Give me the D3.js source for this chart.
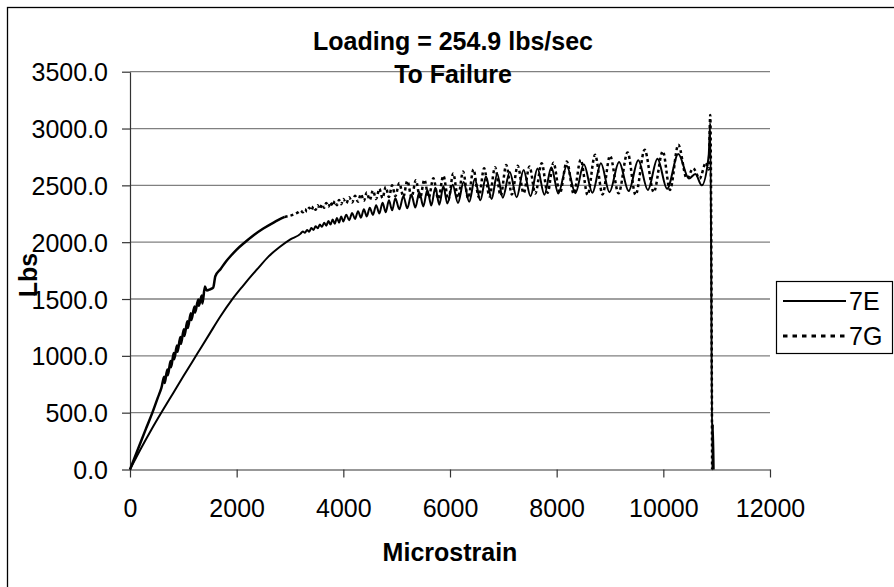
<!DOCTYPE html>
<html><head><meta charset="utf-8">
<script src="https://cdn.jsdelivr.net/npm/d3@7/dist/d3.min.js"></script>
<style>body{margin:0;background:#fff}svg{display:block}text{font-family:"Liberation Sans",Arial,sans-serif}</style>
</head><body>
<svg id="chart" width="894" height="587"></svg>
<script>
const titleLines = ["Loading = 254.9 lbs/sec", "To Failure"];
const xLabel = "Microstrain";
const yLabel = "Lbs";
const xTicks = [0, 2000, 4000, 6000, 8000, 10000, 12000];
const yTicks = [0, 500, 1000, 1500, 2000, 2500, 3000, 3500];
const seriesNames = ["7E", "7G"];

// [microstrain, lbs]
const series7E = [
[0,0],[200,180],[400,350],[600,510],[800,665],[1000,820],[1263,1020],[1500,1200],[1700,1350],[1906,1490],
[2100,1605],[2188,1655],[2400,1770],[2600,1875],[2800,1955],[3000,2022],[3200,2075],
[3240,2095],[3280,2082],[3320,2108],[3360,2092],[3400,2124],[3440,2108],[3480,2140],[3520,2122],[3560,2156],[3600,2135],
[3640,2172],[3680,2145],[3720,2186],[3760,2155],[3800,2200],[3840,2162],[3880,2213],[3920,2172],[3960,2226],[4000,2182],
[4055,2242],[4110,2193],[4165,2257],[4220,2204],[4275,2273],[4330,2216],[4385,2289],[4440,2227],[4495,2304],
[4555,2240],[4615,2326],[4675,2252],[4735,2347],[4795,2264],[4855,2368],[4915,2280],[4975,2386],
[5050,2290],[5125,2405],[5200,2298],[5275,2420],[5350,2305],[5425,2440],[5500,2315],[5575,2460],[5650,2322],[5725,2478],[5800,2330],[5875,2492],[5950,2340],
[6050,2505],[6150,2345],[6255,2530],[6360,2355],[6465,2555],[6570,2368],[6675,2578],[6780,2380],[6885,2600],[6990,2392],
[7120,2618],[7250,2395],[7380,2635],[7510,2405],[7640,2648],[7770,2418],[7900,2660],[8030,2428],
[8190,2672],[8350,2430],[8510,2685],[8670,2435],[8830,2695],[8990,2440],
[9170,2705],[9350,2450],[9530,2720],[9710,2460],[9890,2735],[10070,2470],
[10280,2775],[10480,2560],[10600,2600],[10720,2500],[10850,2760],[10880,3050],[10920,0],[10930,400],[10945,0]
];

const series7G = [
[0,0],[150,180],[300,360],[420,500],[520,630],[590,720],
[640,815],[650,760],[700,880],[710,830],[760,955],[770,900],[820,1025],[830,970],[880,1090],[890,1035],
[945,1165],[955,1105],[1010,1235],[1020,1175],[1075,1305],[1085,1245],[1140,1375],[1150,1315],
[1210,1435],[1220,1380],[1280,1495],[1290,1440],[1345,1530],[1358,1460],
[1405,1610],[1440,1575],[1500,1585],[1560,1600],[1600,1700],[1700,1765],[1800,1830],[1900,1885],[2000,1935],
[2156,2000],[2300,2055],[2500,2120],[2700,2175],[2900,2222],[3156,2264],
[3200,2278],[3240,2263],[3280,2290],[3320,2270],[3360,2302],[3400,2279],[3440,2314],[3480,2285],[3520,2325],[3560,2292],
[3600,2334],[3640,2302],[3680,2344],[3720,2310],[3760,2352],[3800,2318],[3840,2362],[3880,2326],[3920,2372],[3960,2334],[4000,2380],
[4055,2342],[4110,2395],[4165,2350],[4220,2408],[4275,2356],[4330,2424],[4385,2364],[4440,2437],[4495,2370],
[4555,2455],[4615,2380],[4675,2470],[4735,2388],[4795,2485],[4855,2398],[4915,2500],[4975,2405],
[5050,2520],[5125,2400],[5200,2540],[5280,2395],[5360,2545],[5438,2387],[5520,2550],[5600,2392],[5688,2563],[5780,2380],
[5875,2585],[5970,2372],[6060,2605],[6150,2392],[6245,2622],[6340,2387],[6440,2640],[6540,2395],[6640,2651],[6740,2402],
[6845,2660],[6950,2410],[7055,2680],[7160,2420],[7270,2672],[7380,2431],[7490,2666],[7600,2428],[7719,2695],[7830,2435],
[7940,2700],[8060,2431],[8190,2710],[8320,2425],[8450,2725],[8580,2416],[8720,2769],[8860,2420],[9000,2760],[9160,2430],
[9330,2790],[9480,2416],[9650,2813],[9820,2440],[9990,2800],[10125,2460],[10281,2857],[10440,2560],[10560,2650],[10680,2560],
[10800,2700],[10850,2640],[10880,3120],[10915,0]
];

const svg = d3.select("#chart");
const x = d3.scaleLinear().domain([0, 12000]).range([130, 770]);
const y = d3.scaleLinear().domain([0, 3500]).range([469.5, 71.7]);

// outer frame
svg.append("rect").attr("x", 7.5).attr("y", 7.5).attr("width", 1000).attr("height", 1000)
  .attr("fill", "none").attr("stroke", "#000").attr("stroke-width", 1.3);

// gridlines
svg.append("g").selectAll("line").data(yTicks.filter(v => v > 0)).join("line")
  .attr("x1", x(0)).attr("x2", x(12000))
  .attr("y1", d => y(d)).attr("y2", d => y(d))
  .attr("stroke", "#808080").attr("stroke-width", 1.3);

// axes
const fs = 25;
const gy = svg.append("g").attr("transform", `translate(${x(0)},0)`)
  .call(d3.axisLeft(y).tickValues(yTicks).tickSize(8).tickSizeOuter(0).tickPadding(14).tickFormat(d3.format(".1f")));
const gx = svg.append("g").attr("transform", `translate(0,${y(0)})`)
  .call(d3.axisBottom(x).tickValues(xTicks).tickSize(8).tickSizeOuter(0).tickFormat(d3.format("d")));
[gx, gy].forEach(g => {
  g.select(".domain").attr("stroke", "#333").attr("stroke-width", 1.2);
  g.selectAll(".tick line").attr("stroke", "#333").attr("stroke-width", 1.2);
  g.selectAll("text").attr("font-size", fs).attr("fill", "#000").attr("font-family", "Liberation Sans, Arial, sans-serif");
});
gx.selectAll("text").attr("y", 47).attr("dy", 0);
gy.selectAll("text").attr("dy", "0.36em");

// lines
const line = d3.line().x(d => x(d[0])).y(d => y(d[1])).curve(d3.curveMonotoneX);
svg.append("path").datum(series7E).attr("d", line)
  .attr("fill", "none").attr("stroke", "#000").attr("stroke-width", 2);
svg.append("path").datum(series7G.filter(d => d[0] <= 2900)).attr("d", line)
  .attr("fill", "none").attr("stroke", "#000").attr("stroke-width", 2.5);
svg.append("path").datum(series7G.filter(d => d[0] >= 2900)).attr("d", line)
  .attr("fill", "none").attr("stroke", "#000").attr("stroke-width", 2.5).attr("stroke-dasharray", "3,3");

// titles
svg.append("text").attr("x", 453).attr("y", 50).attr("text-anchor", "middle")
  .attr("font-size", fs).attr("font-weight", "bold").text(titleLines[0]);
svg.append("text").attr("x", 453).attr("y", 83).attr("text-anchor", "middle")
  .attr("font-size", fs).attr("font-weight", "bold").text(titleLines[1]);
svg.append("text").attr("x", 450).attr("y", 561).attr("text-anchor", "middle")
  .attr("font-size", fs).attr("font-weight", "bold").text(xLabel);
svg.append("text").attr("transform", "translate(37,275) rotate(-90)").attr("text-anchor", "middle")
  .attr("font-size", fs).attr("font-weight", "bold").text(yLabel);

// legend
const lg = svg.append("g");
lg.append("rect").attr("x", 776.5).attr("y", 281.5).attr("width", 116).attr("height", 72)
  .attr("fill", "#fff").attr("stroke", "#000").attr("stroke-width", 1.2);
const rows = [301, 336];
seriesNames.forEach((name, i) => {
  lg.append("line").attr("x1", 783).attr("x2", 846).attr("y1", rows[i]).attr("y2", rows[i])
    .attr("stroke", "#000").attr("stroke-width", i === 0 ? 2 : 3)
    .attr("stroke-dasharray", i === 0 ? null : "4.5,5");
  lg.append("text").attr("x", 849).attr("y", rows[i] + 9).attr("font-size", fs).text(name);
});
</script>
</body></html>
